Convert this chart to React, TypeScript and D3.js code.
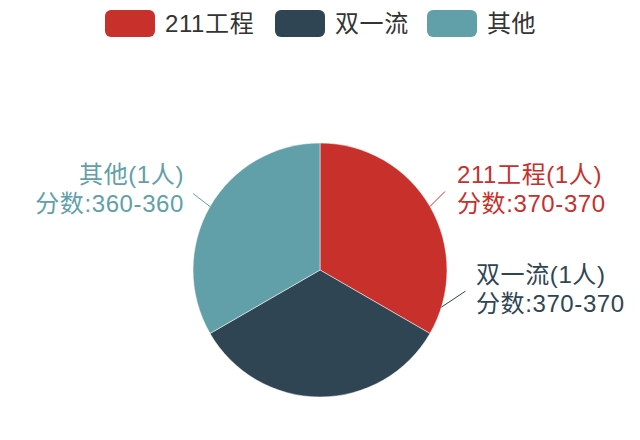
import React from "react";
import * as d3 from "d3";

const categories = ["211工程", "双一流", "其他"];
const counts = [1, 1, 1];
const scoreRanges = ["370-370", "370-370", "360-360"];
const colors = ["#c8302c", "#2f4554", "#61a0a8"];

const W = 640;
const H = 440;
const CX = 320;
const CY = 270;
const R = 127;
const FONT = "'Liberation Sans', 'Noto Sans CJK SC', sans-serif";

// label layout: angle (deg from top, clockwise) where leader line starts, end offset, text anchor
const labelLayout = [
  { angle: null as number | null, dx: 15, dy: -15, tx: 457, ty: 174, anchor: "start" },
  { angle: 107, dx: 24, dy: -16, tx: 476, ty: 274, anchor: "start" },
  { angle: null as number | null, dx: -17, dy: -13, tx: 184, ty: 174, anchor: "end" },
];

export default function App() {
  const data = categories.map((c, i) => ({ name: c, value: counts[i], range: scoreRanges[i], color: colors[i] }));
  const pie = d3.pie<any>().value((d) => d.value).sort(null);
  const arcs = pie(data);
  const arc = d3.arc<any>().innerRadius(0).outerRadius(R);

  const legendItems = [{ x: 105 }, { x: 275 }, { x: 427 }];

  return (
    <svg
      width={W}
      height={H}
      style={{ position: "absolute", left: 0, top: 0, background: "#fff", fontFamily: FONT }}
    >
      {/* legend */}
      {data.map((d, i) => (
        <g key={d.name} transform={`translate(${legendItems[i].x},10)`}>
          <rect width={50} height={27} rx={6} ry={6} fill={d.color} />
          <text x={60} y={13} dominantBaseline="central" fontSize={24} letterSpacing={0.6} fill="#333">
            {d.name}
          </text>
        </g>
      ))}
      {/* pie */}
      <g transform={`translate(${CX},${CY})`}>
        {arcs.map((a, i) => (
          <path key={i} d={arc(a) as string} fill={data[i].color} stroke="#ffffff" strokeOpacity={0.5} strokeWidth={1} />
        ))}
      </g>
      {/* labels */}
      {arcs.map((a, i) => {
        const lay = labelLayout[i];
        const ang = lay.angle != null ? (lay.angle * Math.PI) / 180 : (a.startAngle + a.endAngle) / 2;
        const x0 = CX + R * Math.sin(ang);
        const y0 = CY - R * Math.cos(ang);
        const x1 = x0 + lay.dx;
        const y1 = y0 + lay.dy;
        const d = data[i];
        return (
          <g key={"l" + i}>
            <line x1={x0} y1={y0} x2={x1} y2={y1} stroke={d.color} strokeWidth={1} />
            <text x={lay.tx} y={lay.ty} textAnchor={lay.anchor} dominantBaseline="central" fontSize={24} letterSpacing={0.6} fill={d.color}>
              {`${d.name}(${d.value}人)`}
            </text>
            <text x={lay.tx} y={lay.ty + 29} textAnchor={lay.anchor} dominantBaseline="central" fontSize={24} letterSpacing={0.6} fill={d.color}>
              {`分数:${d.range}`}
            </text>
          </g>
        );
      })}
    </svg>
  );
}
